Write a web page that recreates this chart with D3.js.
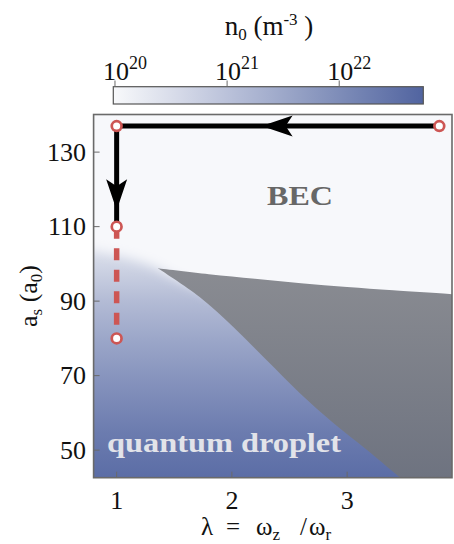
<!DOCTYPE html>
<html><head><meta charset="utf-8">
<script src="https://cdn.jsdelivr.net/npm/d3@7"></script>
<style>body{margin:0;background:#fff}svg{display:block}</style>
</head><body>
<svg id="c" width="454" height="544"></svg>
<script>
// ---------- data ----------
const xTicks = [1, 2, 3];
const yTicks = [50, 70, 90, 110, 130];
const cbTicks = [20, 21, 22];            // log10 n0
const cbLimits = [19.985, 22.75];
// log10 density of the droplet phase vs a_s
const dropAs   = [42.6, 55, 69, 80, 90, 101, 105, 110, 141];
const dropLogN = [22.58, 22.3, 21.88, 21.5, 21.13, 20.58, 20.33, 20.05, 20.0];
const becLogN = 20.0;
// fuzzy BEC / droplet crossover (λ, a_s)
const becLam = [0.6, 0.8, 1.0, 1.2, 1.36];
const becAs  = [105, 104, 102.6, 100.8, 98.8];
// no-solution (grey) region, upper boundary
const upLam = [1.357, 1.8, 2.2, 2.6, 3.0, 3.4, 3.95];
const upAs  = [98.8, 97.2, 96.0, 94.8, 93.8, 92.9, 91.8];
// grey region, lower boundary
const loLam = [1.357, 1.72, 2.01, 2.30, 2.59, 2.88, 3.17, 3.46];
const loAs  = [98.8, 91.1, 83.1, 74.2, 65.3, 57.3, 50.1, 42.6];
// trajectory
const pathLam = [3.8, 1, 1];
const pathAs  = [137, 137, 110];
const dashLam = [1, 1];
const dashAs  = [110, 80];
const ptLam = [1, 3.8, 1, 1];
const ptAs  = [137, 137, 110, 80];
const arrowLam = [2.258, 1];
const arrowAs  = [137, 114.4];
const arrowDir = ["left", "down"];

// ---------- layout ----------
const svg = d3.select("#c");
const L = 93.6, R = 452, T = 114.5, B = 477.7;
const x = d3.scaleLinear().domain([0.8, 3.91]).range([L, R]);
const y = d3.scaleLinear().domain([42.6, 140.1]).range([B, T]);
const cbX = d3.scaleLinear().domain(cbLimits).range([113.3, 423.3]);
const col = d3.scaleLinear().domain(cbLimits).range(["#f8f9fb", "#5164a0"]).interpolate(d3.interpolateRgb);
const serif = "'Liberation Serif', 'DejaVu Serif', serif";

const defs = svg.append("defs");
defs.append("clipPath").attr("id", "plotClip").append("rect")
  .attr("x", L).attr("y", T).attr("width", R - L).attr("height", B - T);
defs.append("filter").attr("id", "blur").attr("x", "-20%").attr("y", "-20%").attr("width", "140%").attr("height", "140%")
  .append("feGaussianBlur").attr("stdDeviation", 6);

const gD = defs.append("linearGradient").attr("id", "dropGrad").attr("gradientUnits", "userSpaceOnUse")
  .attr("x1", 0).attr("x2", 0).attr("y1", y(42.6)).attr("y2", y(141));
dropAs.forEach((a, i) => gD.append("stop")
  .attr("offset", (y(42.6) - y(a)) / (y(42.6) - y(141)))
  .attr("stop-color", col(dropLogN[i])));
const gG = defs.append("linearGradient").attr("id", "greyGrad").attr("gradientUnits", "userSpaceOnUse")
  .attr("x1", 0).attr("x2", 0).attr("y1", y(99)).attr("y2", y(42.6));
gG.append("stop").attr("offset", 0).attr("stop-color", "#8a8c92");
gG.append("stop").attr("offset", 1).attr("stop-color", "#6e7380");
const gC = defs.append("linearGradient").attr("id", "cbGrad");
d3.range(0, 1.0001, 0.1).forEach(t => gC.append("stop").attr("offset", t)
  .attr("stop-color", col(cbLimits[0] + t * (cbLimits[1] - cbLimits[0]))));

// ---------- plot field ----------
const field = svg.append("g").attr("clip-path", "url(#plotClip)");
field.append("rect").attr("x", L).attr("y", T).attr("width", R - L).attr("height", B - T)
  .attr("fill", "url(#dropGrad)");
const smooth = d3.line().curve(d3.curveCatmullRom.alpha(0.5));
const becTop = smooth(becLam.map((l, i) => [x(l), y(becAs[i])]));
const becRest = d3.line()([[x(1.36), y(98.8)], [x(1.42), y(97.6)], [x(1.8), y(92)], [x(2.6), y(86)], [x(4.3), y(86)], [x(4.3), y(150)], [x(0.6), y(150)]]);
field.append("g").attr("filter", "url(#blur)")
  .append("path").attr("d", becTop + becRest.replace(/^M/, "L") + "Z").attr("fill", col(becLogN));
// grey region
const upPath = smooth(upLam.map((l, i) => [x(l), y(upAs[i])]));
const loRev = loLam.map((l, i) => [x(l), y(loAs[i])]).reverse();
const corner = d3.line()([[x(3.95), y(40)], [x(3.46), y(40)]]);
field.append("path").attr("d", upPath + corner.replace(/^M/, "L") + smooth(loRev).replace(/^M/, "L") + "Z")
  .attr("fill", "url(#greyGrad)");

// phase labels
svg.append("text").attr("x", 300).attr("y", 205).attr("text-anchor", "middle")
  .attr("font-family", serif).attr("font-weight", "bold").attr("font-size", 27)
  .attr("fill", "#676767").attr("textLength", 66).attr("lengthAdjust", "spacingAndGlyphs").text("BEC");
svg.append("text").attr("x", 107).attr("y", 451.5)
  .attr("font-family", serif).attr("font-weight", "bold").attr("font-size", 27)
  .attr("fill", "#e2e3e9").attr("textLength", 234).attr("lengthAdjust", "spacingAndGlyphs")
  .text("quantum droplet");

// ticks (inside)
const tickG = svg.append("g").attr("stroke", "#6a6a6a").attr("stroke-width", 1);
xTicks.forEach(v => tickG.append("line").attr("x1", x(v)).attr("x2", x(v)).attr("y1", B).attr("y2", B - 6));
yTicks.forEach(v => tickG.append("line").attr("x1", L).attr("x2", L + 6).attr("y1", y(v)).attr("y2", y(v)));
svg.append("rect").attr("x", L).attr("y", T).attr("width", R - L).attr("height", B - T)
  .attr("fill", "none").attr("stroke", "#6a6a6a").attr("stroke-width", 1.6);

// ---------- trajectory ----------
svg.append("path").attr("d", d3.line()(dashLam.map((l, i) => [x(l), y(dashAs[i])])))
  .attr("stroke", "#cd5654").attr("stroke-width", 5.5).attr("stroke-dasharray", "12,9.5").attr("fill", "none");
svg.append("path").attr("d", d3.line()(pathLam.map((l, i) => [x(l), y(pathAs[i])])))
  .attr("stroke", "#000").attr("stroke-width", 5).attr("fill", "none").attr("stroke-linejoin", "miter");
arrowLam.forEach((l, i) => {
  const tx = x(l), ty = y(arrowAs[i]);
  const shape = [[0, 0], [31, -10.5], [24, 0], [31, 10.5]];
  const rot = arrowDir[i] === "left" ? 0 : -90;
  svg.append("path").attr("d", d3.line()(shape) + "Z")
    .attr("transform", `translate(${tx},${ty}) rotate(${rot})`).attr("fill", "#000");
});
svg.selectAll("circle.pt").data(ptLam).join("circle").attr("class", "pt")
  .attr("cx", d => x(d)).attr("cy", (d, i) => y(ptAs[i])).attr("r", 4.9)
  .attr("fill", "#fff").attr("stroke", "#cd5654").attr("stroke-width", 2.7);

// ---------- axes labels ----------
const fs = 26;
xTicks.forEach(v => svg.append("text").attr("x", x(v)).attr("y", 509).attr("text-anchor", "middle")
  .attr("font-family", serif).attr("font-size", fs).attr("fill", "#111").text(v));
yTicks.forEach(v => svg.append("text").attr("x", 86).attr("y", y(v)).attr("dy", "0.34em").attr("text-anchor", "end")
  .attr("font-family", serif).attr("font-size", fs).attr("fill", "#111").text(v));

// x title: λ = ωz / ωr
const xt = svg.append("text").attr("y", 535)
  .attr("font-family", serif).attr("font-size", 25).attr("fill", "#111");
xt.append("tspan").attr("x", 201).text("λ");
xt.append("tspan").attr("x", 226).text("=");
xt.append("tspan").attr("x", 256).text("ω");
xt.append("tspan").attr("font-size", 17).attr("dy", 5).text("z");
xt.append("tspan").attr("x", 300).attr("dy", -5).text("/");
xt.append("tspan").attr("x", 309).text("ω");
xt.append("tspan").attr("font-size", 17).attr("dy", 5).text("r");

// y title: a_s (a_0)
const yt = svg.append("text").attr("transform", `translate(37,${296}) rotate(-90)`).attr("text-anchor", "middle")
  .attr("font-family", serif).attr("font-size", 26).attr("fill", "#111");
yt.append("tspan").text("a");
yt.append("tspan").attr("font-size", 17).attr("dy", 5).text("s");
yt.append("tspan").attr("dy", -5).text(" (a");
yt.append("tspan").attr("font-size", 17).attr("dy", 5).text("0");
yt.append("tspan").attr("dy", -5).text(")");

// ---------- colorbar ----------
svg.append("rect").attr("x", cbX(cbLimits[0])).attr("y", 86.7).attr("width", cbX(cbLimits[1]) - cbX(cbLimits[0]))
  .attr("height", 17.3).attr("fill", "url(#cbGrad)").attr("stroke", "#555").attr("stroke-width", 1.2);
cbTicks.forEach(v => {
  svg.append("line").attr("x1", cbX(v)).attr("x2", cbX(v)).attr("y1", 86.7).attr("y2", 80.5)
    .attr("stroke", "#6a6a6a").attr("stroke-width", 1);
  const t = svg.append("text").attr("x", cbX(v) + 10).attr("y", 80).attr("text-anchor", "middle")
    .attr("font-family", serif).attr("font-size", fs).attr("fill", "#111");
  t.append("tspan").text("10");
  t.append("tspan").attr("font-size", 18).attr("dy", -11).text(v);
});
const ct = svg.append("text").attr("x", 269).attr("y", 35).attr("text-anchor", "middle")
  .attr("font-family", serif).attr("font-size", 27).attr("fill", "#111");
ct.append("tspan").text("n");
ct.append("tspan").attr("font-size", 17).attr("dy", 5).text("0");
ct.append("tspan").attr("dy", -5).text("  (m");
ct.append("tspan").attr("font-size", 17).attr("dy", -10).text("-3");
ct.append("tspan").attr("dy", 10).text("  )");
</script>
</body></html>
